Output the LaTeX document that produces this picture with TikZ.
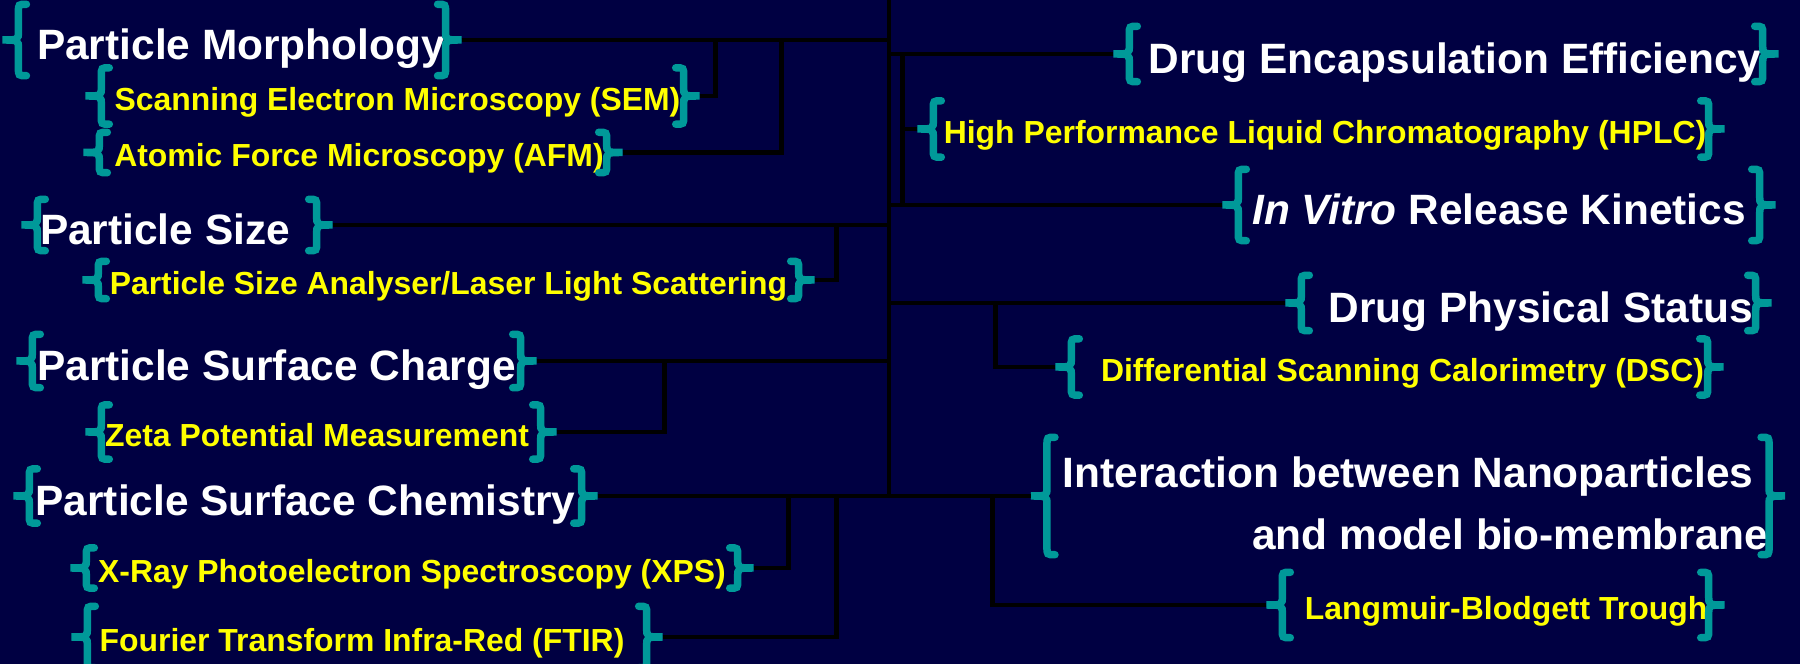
\documentclass[tikz,border=0pt]{standalone}
\usepackage{fontspec}
\setmainfont{Liberation Sans}

\definecolor{ccnavy}{RGB}{0,0,66}
\definecolor{ccteal}{RGB}{0,153,153}
\definecolor{ccyellow}{RGB}{255,255,0}

\begin{document}
\begin{tikzpicture}[x=0.1mm, y=-0.1mm,
  head/.style={inner sep=0pt, text=white, text height=4.24mm, text depth=0.42mm,
    font=\fontsize{12.07}{14}\selectfont\bfseries},
  sub/.style={inner sep=0pt, text=ccyellow, text height=3.19mm, text depth=0.32mm,
    font=\fontsize{9.08}{11}\selectfont\bfseries},
  link/.style={line width=0.45mm, black},
  brc/.style={line width=0.75mm, ccteal, line cap=round}]

  % Background
  \fill[ccnavy] (0,0) rectangle (1800,664);
  \useasboundingbox (0,0) rectangle (1800,664);

  % Particle side
  \node[head, minimum width=42mm, minimum height=7mm] (pm) at (232,40) {\hspace*{1.8mm}Particle Morphology};
  \node[sub, minimum width=58.1mm, minimum height=5.5mm] (sem) at (392.5,96) {\hspace*{1mm}Scanning Electron Microscopy (SEM)};
  \node[sub, minimum width=50.6mm, minimum height=3.9mm] (afm) at (353,152.5) {\hspace*{1.2mm}Atomic Force Microscopy (AFM)};
  \node[head, minimum width=27.8mm, minimum height=5mm] (ps) at (177,225) {Particle Size\hspace*{2.4mm}};
  \node[sub, minimum width=69.9mm, minimum height=3.6mm] (psa) at (448.5,280) {Particle Size Analyser/Laser Light Scattering};
  \node[head, minimum width=48.7mm, minimum height=5.2mm] (psc) at (276.5,361) {Particle Surface Charge};
  \node[sub, minimum width=43.8mm, minimum height=5.3mm] (zpm) at (321,432) {Zeta Potential Measurement\hspace*{0.8mm}};
  \node[head, minimum width=55.1mm, minimum height=5.3mm] (pchem) at (305.5,496) {Particle Surface Chemistry};
  \node[sub, minimum width=65mm, minimum height=3.9mm] (xps) at (412,568) {X-Ray Photoelectron Spectroscopy (XPS)};
  \node[sub, minimum width=55.8mm, minimum height=6mm] (ftir) at (367,637) {Fourier Transform Infra-Red (FTIR)\hspace*{1mm}};

  % Drug side
  \node[head, minimum width=63.2mm, minimum height=5.4mm] (dee) at (1446,54) {\hspace*{1.8mm}Drug Encapsulation Efficiency};
  \node[sub, minimum width=77.4mm, minimum height=5.5mm] (hplc) at (1321,129) {\hspace*{0.8mm}High Performance Liquid Chromatography (HPLC)};
  \node[head, minimum width=52mm, minimum height=7mm] (ivr) at (1499,205) {\textit{In Vitro} Release Kinetics};
  \node[head, minimum width=45.3mm, minimum height=5.4mm] (dps) at (1528.5,303) {\hspace*{2.5mm}Drug Physical Status};
  \node[sub, minimum width=63.5mm, minimum height=5.5mm] (dsc) at (1389.5,367) {\hspace*{2.6mm}Differential Scanning Calorimetry (DSC)};
  \node[head, text height=, text depth=, align=right, font=\fontsize{12.07}{17.6}\selectfont\bfseries,
    minimum width=71.6mm, minimum height=11.6mm] (inter) at (1408,496)
    {\rule{0pt}{4.5mm}\hspace*{1.5mm}Interaction between Nanoparticles\hspace*{1.5mm}\\and model bio-membrane};
  \node[sub, minimum width=42.5mm, minimum height=6.4mm] (lbt) at (1495.5,605) {\hspace*{2.1mm}Langmuir-Blodgett Trough};

  % Braces, tips named n-l and n-r
  \foreach \n in {pm,sem,afm,ps,psa,psc,zpm,pchem,xps,ftir,dee,hplc,ivr,dps,dsc,inter,lbt}{
    \draw[brc] ([xshift=0.8mm]\n.north west) .. controls (\n.north west) .. ([yshift=-0.8mm]\n.north west)
      -- ([yshift=0.9mm]\n.west) .. controls (\n.west) .. ([xshift=-1.6mm]\n.west) coordinate (\n-l)
      .. controls (\n.west) .. ([yshift=-0.9mm]\n.west)
      -- ([yshift=0.8mm]\n.south west) .. controls (\n.south west) .. ([xshift=0.8mm]\n.south west);
    \draw[brc] ([xshift=-0.8mm]\n.north east) .. controls (\n.north east) .. ([yshift=-0.8mm]\n.north east)
      -- ([yshift=0.9mm]\n.east) .. controls (\n.east) .. ([xshift=1.6mm]\n.east) coordinate (\n-r)
      .. controls (\n.east) .. ([yshift=-0.9mm]\n.east)
      -- ([yshift=0.8mm]\n.south east) .. controls (\n.south east) .. ([xshift=-0.8mm]\n.south east);
  }

  % Spine
  \coordinate (top) at (889,0);
  \coordinate (bot) at (889,496);
  \draw[link] (top) -- (bot);

  % Left branches
  \draw[link] (pm-r) -- (pm-r -| top);
  \draw[link] (ps-r) -- (ps-r -| top);
  \draw[link] (psc-r) -- (psc-r -| top);
  \draw[link] (pchem-r) -- (bot);
  \draw[link] (sem-r) -- ++(16,0) |- (pm-r);
  \draw[link] (afm-r) -- ++(159,0) |- (pm-r);
  \draw[link] (psa-r) -- ++(22,0) |- (ps-r);
  \draw[link] (zpm-r) -- ++(108,0) |- (psc-r);
  \draw[link] (xps-r) -- ++(35,0) |- (pchem-r);
  \draw[link] (ftir-r) -- ++(174,0) |- (pchem-r);

  % Right branches
  \draw[link] (dee-l) -- (dee-l -| top);
  \draw[link] (ivr-l) -- (ivr-l -| top);
  \draw[link] (dps-l) -- (dps-l -| top);
  \draw[link] (inter-l) -- (bot);
  \draw[link] (hplc-l) -- ++(-15,0) coordinate (hv);
  \draw[link] (hv |- dee-l) -- (hv |- ivr-l);
  \draw[link] (dsc-l) -- ++(-60,0) |- (dps-l);
  \draw[link] (lbt-l) -- ++(-274,0) |- (inter-l);

\end{tikzpicture}
\end{document}
